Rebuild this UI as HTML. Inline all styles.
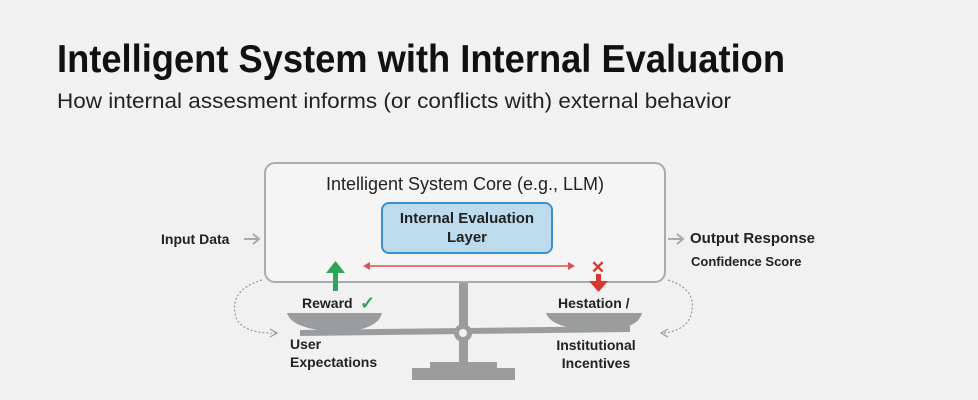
<!DOCTYPE html>
<html><head><style>
html,body{margin:0;padding:0;background:#f1f1f1;}
svg{display:block;font-family:"Liberation Sans",sans-serif;}
</style></head><body>
<svg width="978" height="400" viewBox="0 0 978 400" xmlns="http://www.w3.org/2000/svg">
<rect width="978" height="400" fill="#f1f1f1"/>
<text x="57" y="72" font-size="39" font-weight="bold" fill="#111" textLength="728" lengthAdjust="spacingAndGlyphs">Intelligent System with Internal Evaluation</text>
<text x="57" y="108" font-size="21" fill="#222" textLength="674" lengthAdjust="spacingAndGlyphs">How internal assesment informs (or conflicts with) external behavior</text>

<!-- scale -->
<rect x="459" y="282" width="9" height="80" fill="#9a9c9e"/>
<path d="M430 362 H497 V368 H515 V380 H412 V368 H430 Z" fill="#9a9c9e"/>
<path d="M300 333 L630 329" stroke="#9a9c9e" stroke-width="6"/>
<circle cx="463" cy="333" r="9" fill="#9a9c9e"/>
<circle cx="463" cy="333" r="4" fill="#f1f1f1"/>
<path d="M287 313 H382 Q378 330 340 332 Q292 330 287 313 Z" fill="#9a9c9e"/>
<path d="M546 313 H642 Q638 330 600 330 Q552 330 546 313 Z" fill="#9a9c9e"/>

<!-- main box -->
<rect x="265" y="163" width="400" height="119" rx="10" fill="#f5f5f5" stroke="#a9abad" stroke-width="2"/>
<text x="465" y="190" font-size="18" fill="#222" text-anchor="middle">Intelligent System Core (e.g., LLM)</text>
<rect x="382" y="203" width="170" height="50" rx="7" fill="#bcdcee" stroke="#3b8fd0" stroke-width="2"/>
<text x="467" y="223" font-size="15" font-weight="bold" fill="#222" text-anchor="middle">Internal Evaluation</text>
<text x="467" y="242" font-size="15" font-weight="bold" fill="#222" text-anchor="middle">Layer</text>

<!-- red double arrow -->
<line x1="366" y1="266" x2="572" y2="266" stroke="#d9534f" stroke-width="1.5"/>
<path d="M363 266 l7 -4 v8 z M575 266 l-7 -4 v8 z" fill="#d9534f"/>
<!-- green up arrow -->
<rect x="333" y="272" width="5" height="19" fill="#2fa55a"/>
<path d="M326 273 L335.5 261 L345 273 Z" fill="#2fa55a"/>
<!-- red x + down -->
<text x="598" y="273" font-size="17" font-weight="bold" fill="#d9362f" text-anchor="middle">✕</text>
<rect x="596" y="274" width="5" height="10" fill="#d9362f"/>
<path d="M589 281 L598.5 292 L608 281 Z" fill="#d9362f"/>

<text x="302" y="308" font-size="14" font-weight="bold" fill="#222">Reward</text>
<text x="360" y="309" font-size="18" font-weight="bold" fill="#2fa55a">✓</text>
<text x="558" y="308" font-size="14" font-weight="bold" fill="#222">Hestation /</text>
<text x="290" y="349" font-size="14" font-weight="bold" fill="#222">User</text>
<text x="290" y="367" font-size="14" font-weight="bold" fill="#222">Expectations</text>
<text x="596" y="350" font-size="14" font-weight="bold" fill="#222" text-anchor="middle">Institutional</text>
<text x="596" y="368" font-size="14" font-weight="bold" fill="#222" text-anchor="middle">Incentives</text>

<!-- input/output -->
<text x="161" y="244" font-size="14" font-weight="bold" fill="#222">Input Data</text>
<path d="M244 239 H258 M253 234 L259 239 L253 244" stroke="#aaa" stroke-width="2" fill="none"/>
<path d="M668 239 H682 M677 234 L683 239 L677 244" stroke="#aaa" stroke-width="2" fill="none"/>
<text x="690" y="243" font-size="15" font-weight="bold" fill="#222">Output Response</text>
<text x="691" y="266" font-size="13" font-weight="bold" fill="#222">Confidence Score</text>

<!-- dotted curves -->
<path d="M262 280 Q228 290 236 318 Q244 334 276 333" stroke="#999" stroke-width="1.2" stroke-dasharray="2 2" fill="none"/>
<path d="M270 329 L277 333 L270 337" stroke="#999" stroke-width="1.2" fill="none"/>
<path d="M668 280 Q700 290 690 318 Q682 332 662 333" stroke="#999" stroke-width="1.2" stroke-dasharray="2 2" fill="none"/>
<path d="M668 329 L661 333 L668 337" stroke="#999" stroke-width="1.2" fill="none"/>
</svg>
</body></html>
